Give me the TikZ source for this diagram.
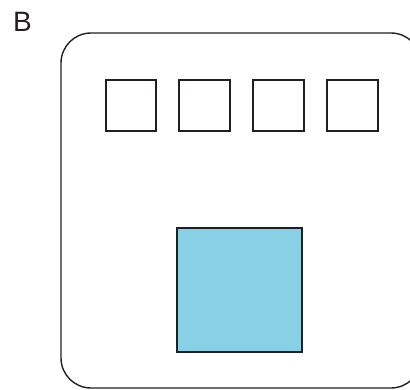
\documentclass[tikz,border=0pt]{standalone}
\usepackage{fontspec}
\setmainfont{Liberation Sans}
\definecolor{panelblue}{RGB}{136,208,229}
\definecolor{edge}{RGB}{35,31,32}
\tikzset{
  outline/.style={draw=edge, line width=1.4pt},
  slot/.style={outline, fill=white},
  core/.style={outline, fill=panelblue},
}
\begin{document}
\begin{tikzpicture}[x=1pt,y=-1pt]
\useasboundingbox (0,0) rectangle (410,389);
\clip (0,0) rectangle (410,389);
\node[anchor=base west, inner sep=0pt, font=\fontsize{28}{30}\selectfont, text=edge] (lbl) at (13,31) {B};
\draw[outline, rounded corners=30pt] (61,33) rectangle (421,388);
\draw[slot] (106,80) rectangle (156,131);
\draw[slot] (179,80) rectangle (230,131);
\draw[slot] (253,80) rectangle (304,131);
\draw[slot] (327,80) rectangle (378,131);
\draw[core] (177,228) rectangle (302,352);
\end{tikzpicture}
\end{document}
